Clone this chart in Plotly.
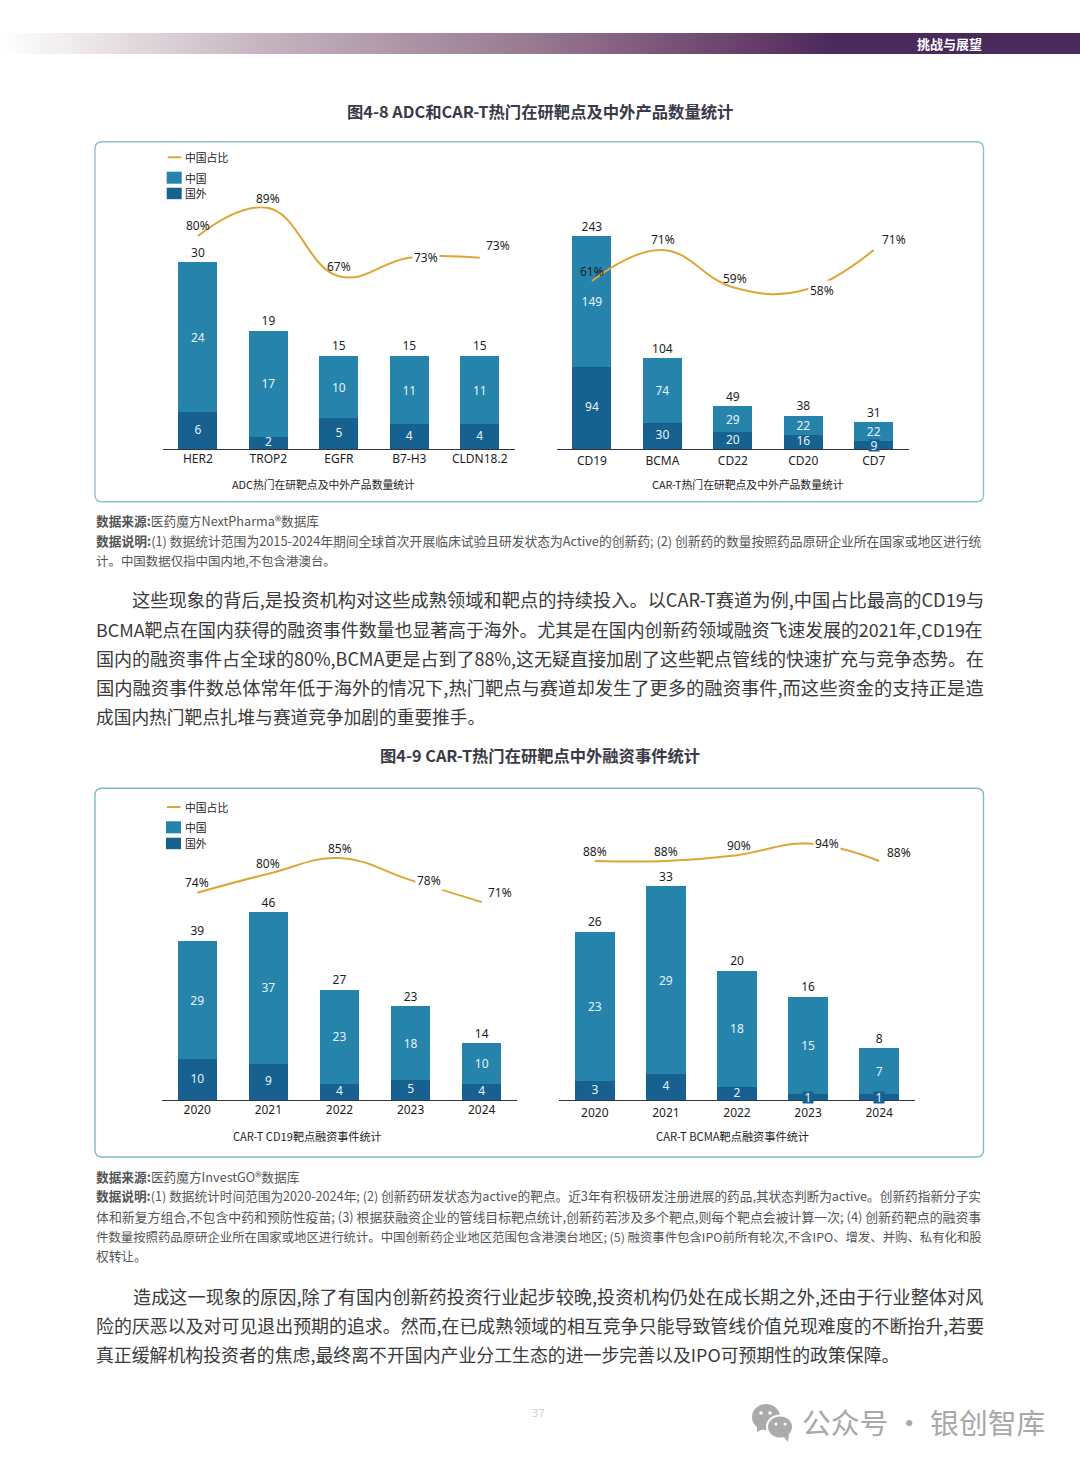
import plotly.graph_objects as go

# ---------- data ----------
adc_targets = ["HER2", "TROP2", "EGFR", "B7-H3", "CLDN18.2"]
adc_china = [24, 17, 10, 11, 11]
adc_foreign = [6, 2, 5, 4, 4]
adc_share = [80, 89, 67, 73, 73]

cart_targets = ["CD19", "BCMA", "CD22", "CD20", "CD7"]
cart_china = [149, 74, 29, 22, 22]
cart_foreign = [94, 30, 20, 16, 9]
cart_share = [61, 71, 59, 58, 71]

years = ["2020", "2021", "2022", "2023", "2024"]
cd19_china = [29, 37, 23, 18, 10]
cd19_foreign = [10, 9, 4, 5, 4]
cd19_share = [74, 80, 85, 78, 71]

bcma_china = [23, 29, 18, 15, 7]
bcma_foreign = [3, 4, 2, 1, 1]
bcma_share = [88, 88, 90, 94, 88]

captions = ["ADC热门在研靶点及中外产品数量统计", "CAR-T热门在研靶点及中外产品数量统计",
            "CAR-T CD19靶点融资事件统计", "CAR-T BCMA靶点融资事件统计"]
legend_line = "中国占比"
legend_china = "中国"
legend_foreign = "国外"

# ---------- text of the page ----------
header_text = "挑战与展望"
title_48 = "图4-8 ADC和CAR-T热门在研靶点及中外产品数量统计"
title_49 = "图4-9 CAR-T热门在研靶点中外融资事件统计"
note_48 = ["<b>数据来源:</b>医药魔方NextPharma®数据库",
           "<b>数据说明:</b>(1) 数据统计范围为2015-2024年期间全球首次开展临床试验且研发状态为Active的创新药; (2) 创新药的数量按照药品原研企业所在国家或地区进行统",
           "计。中国数据仅指中国内地,不包含港澳台。"]
para_1 = ["这些现象的背后,是投资机构对这些成熟领域和靶点的持续投入。以CAR-T赛道为例,中国占比最高的CD19与",
          "BCMA靶点在国内获得的融资事件数量也显著高于海外。尤其是在国内创新药领域融资飞速发展的2021年,CD19在",
          "国内的融资事件占全球的80%,BCMA更是占到了88%,这无疑直接加剧了这些靶点管线的快速扩充与竞争态势。在",
          "国内融资事件数总体常年低于海外的情况下,热门靶点与赛道却发生了更多的融资事件,而这些资金的支持正是造",
          "成国内热门靶点扎堆与赛道竞争加剧的重要推手。"]
note_49 = ["<b>数据来源:</b>医药魔方InvestGO®数据库",
           "<b>数据说明:</b>(1) 数据统计时间范围为2020-2024年; (2) 创新药研发状态为active的靶点。近3年有积极研发注册进展的药品,其状态判断为active。创新药指新分子实",
           "体和新复方组合,不包含中药和预防性疫苗; (3) 根据获融资企业的管线目标靶点统计,创新药若涉及多个靶点,则每个靶点会被计算一次; (4) 创新药靶点的融资事",
           "件数量按照药品原研企业所在国家或地区进行统计。中国创新药企业地区范围包含港澳台地区; (5) 融资事件包含IPO前所有轮次,不含IPO、增发、并购、私有化和股",
           "权转让。"]
para_2 = ["造成这一现象的原因,除了有国内创新药投资行业起步较晚,投资机构仍处在成长期之外,还由于行业整体对风",
          "险的厌恶以及对可见退出预期的追求。然而,在已成熟领域的相互竞争只能导致管线价值兑现难度的不断抬升,若要",
          "真正缓解机构投资者的焦虑,最终离不开国内产业分工生态的进一步完善以及IPO可预期性的政策保障。"]
page_number = "37"
watermark = "公众号 · 银创智库"

# ---------- styles / geometry ----------
W, H = 1080, 1466
CJK = "Noto Sans CJK SC"
LATIN = "Noto Sans, Noto Sans CJK SC"
C_CHINA, C_FOREIGN, C_LINE = "#2683AB", "#16618F", "#DDA635"
INK = "#1E1E1E"
LABEL_IN = "#E6F3F8"

def px(x): return x / W
def py(y): return 1 - y / H

panels = [
    dict(cats=adc_targets, china=adc_china, foreign=adc_foreign, share=adc_share, standoff=-2,
         x0=162.7, x1=515.0, base=449.3, top=150, unit=6.23, v0=80, p0=236, s=3.1,
         lab=[(0, 10, 0), (0, 10, 0), (0, 10, 0), (17, 0, 1), (18, 12, 0)], cap=(323, 485), capsize=10.8),
    dict(cats=cart_targets, china=cart_china, foreign=cart_foreign, share=cart_share, standoff=0,
         x0=556.7, x1=909.0, base=449.3, top=150, unit=0.8765, v0=71, p0=250, s=3.1,
         lab=[(0, 10, 0), (1, 10, 0), (2, 9, 0), (19, 0, 1), (20, 10, 0)], cap=(748, 485), capsize=10.8),
    dict(cats=years, china=cd19_china, foreign=cd19_foreign, share=cd19_share, standoff=-2,
         x0=161.7, x1=517.3, base=1100.3, top=795, unit=4.087, v0=74, p0=892.7, s=3.15,
         lab=[(0, 10, 0), (0, 10, 0), (0, 10, 0), (18, 0, 1), (18, 10, 0)], cap=(307, 1136.5), capsize=11.1),
    dict(cats=years, china=bcma_china, foreign=bcma_foreign, share=bcma_share, standoff=1,
         x0=559.3, x1=914.7, base=1100.3, top=795, unit=6.485, v0=88, p0=861, s=2.9,
         lab=[(0, 10, 0), (0, 10, 0), (2, 10, 0), (19, 0, 1), (20, 9, 0)], cap=(732.5, 1136.5), capsize=11.2),
]

fig = go.Figure()
layout_axes, annots, shapes = {}, [], []

def text(x, y, s, size, color=INK, family=LATIN, anchor="left", **kw):
    annots.append(dict(x=px(x - (1 if anchor == "left" else 0)), y=py(y - 1), xref="paper", yref="paper",
                       text=s, showarrow=False, xanchor=anchor, yanchor="middle", align=anchor,
                       font=dict(size=size, color=color, family=family),
                       borderpad=0, **kw))

def rect(x0, y0, x1, y1, color, layer="below"):
    shapes.append(dict(type="rect", xref="paper", yref="paper", x0=px(x0), x1=px(x1),
                       y0=py(y0), y1=py(y1), fillcolor=color, line=dict(width=0), layer=layer))

for i, p in enumerate(panels):
    n = i + 1
    xa, ya, ya2 = f"x{n}", f"y{n}", f"y{n + 4}"
    totals = [a + b for a, b in zip(p["china"], p["foreign"])]
    fig.add_trace(go.Bar(x=p["cats"], y=p["foreign"], name=legend_foreign,
                         marker=dict(color=C_FOREIGN, line=dict(width=0)),
                         showlegend=False, xaxis=xa, yaxis=ya, hoverinfo="skip"))
    fig.add_trace(go.Bar(x=p["cats"], y=p["china"], name=legend_china,
                         marker=dict(color=C_CHINA, line=dict(width=0)),
                         text=[str(v) for v in p["china"]], textposition="inside", textangle=0,
                         insidetextanchor="middle", constraintext="none", cliponaxis=False,
                         insidetextfont=dict(color=LABEL_IN, size=12, family=LATIN),
                         showlegend=False, xaxis=xa, yaxis=ya, hoverinfo="skip"))
    # foreign labels are drawn above both bars; very short bars get a small tab behind the label
    fx, fy, ft = [], [], []
    for j, (cat, v) in enumerate(zip(p["cats"], p["foreign"])):
        if v * p["unit"] < 10:
            annots.append(dict(x=j, y=v / 2, xref=xa, yref=ya, text=str(v), showarrow=False, width=10, height=11,
                               bgcolor=C_FOREIGN, borderpad=0, xanchor="center", yanchor="middle",
                               font=dict(size=12, color=LABEL_IN, family=LATIN)))
        else:
            fx.append(cat); fy.append(v / 2); ft.append(str(v))
    fig.add_trace(go.Scatter(x=fx, y=fy, mode="text", text=ft, textposition="middle center",
                             textfont=dict(size=12, color=LABEL_IN, family=LATIN), cliponaxis=False,
                             showlegend=False, xaxis=xa, yaxis=ya, hoverinfo="skip"))
    fig.add_trace(go.Scatter(x=p["cats"], y=totals, mode="markers+text", text=[str(v) for v in totals],
                             marker=dict(size=2.5, opacity=0),
                             textposition="top center", textfont=dict(size=12, color=INK, family=LATIN),
                             cliponaxis=False, showlegend=False, xaxis=xa, yaxis=ya, hoverinfo="skip"))
    fig.add_trace(go.Scatter(x=p["cats"], y=p["share"], mode="lines", name=legend_line,
                             line=dict(color=C_LINE, width=2, shape="spline", smoothing=1.2),
                             showlegend=False, xaxis=xa, yaxis=ya2, hoverinfo="skip"))
    dom_x = [px(p["x0"]), px(p["x1"])]
    dom_y = [py(p["base"]), py(p["top"])]
    layout_axes[f"xaxis{n}"] = dict(domain=dom_x, anchor=ya, type="category", range=[-0.5, 4.5],
                                    categoryorder="array", categoryarray=p["cats"],
                                    showline=True, linecolor="#333340", linewidth=1, showgrid=False,
                                    zeroline=False, ticks="", ticklabelstandoff=p["standoff"],
                                    tickfont=dict(size=12, color=INK, family=LATIN))
    layout_axes[f"yaxis{n}"] = dict(domain=dom_y, anchor=xa, range=[0, (p["base"] - p["top"]) / p["unit"]],
                                    visible=False, showgrid=False, zeroline=False)
    layout_axes[f"yaxis{n + 4}"] = dict(overlaying=ya, anchor=xa, visible=False, showgrid=False, zeroline=False,
                                        range=[p["v0"] - (p["base"] - p["p0"]) / p["s"],
                                               p["v0"] + (p["p0"] - p["top"]) / p["s"]])
    for j, (v, (dx, dy, bg)) in enumerate(zip(p["share"], p["lab"])):
        a = dict(x=j, y=v, xref=xa, yref=ya2, text=f"{v}%", showarrow=False, xshift=dx, yshift=dy,
                 font=dict(size=12, color=INK, family=LATIN), xanchor="center", yanchor="middle", borderpad=1)
        if bg:
            a["bgcolor"] = "#FFFFFF"
        annots.append(a)
    text(p["cap"][0], p["cap"][1], captions[i], p["capsize"], INK, CJK, "center")

# chart cards
def card(x0, y0, x1, y1, color, r=7):
    path = (f"M {px(x0 + r)} {py(y0)} L {px(x1 - r)} {py(y0)} Q {px(x1)} {py(y0)} {px(x1)} {py(y0 + r)} "
            f"L {px(x1)} {py(y1 - r)} Q {px(x1)} {py(y1)} {px(x1 - r)} {py(y1)} "
            f"L {px(x0 + r)} {py(y1)} Q {px(x0)} {py(y1)} {px(x0)} {py(y1 - r)} "
            f"L {px(x0)} {py(y0 + r)} Q {px(x0)} {py(y0)} {px(x0 + r)} {py(y0)} Z")
    shapes.append(dict(type="path", xref="paper", yref="paper", path=path, line=dict(color=color, width=1.4),
                       fillcolor="rgba(0,0,0,0)", layer="below"))

card(95, 141.7, 983.5, 501.7, "#8DBFD0")
card(95, 788.3, 983.5, 1157, "#7FB9C2")

# manual legends
for (lx, ly, ty1, ty2) in ((167.7, 157.3, 171.7, 187.7), (167, 807, 821.3, 837.7)):
    shapes.append(dict(type="line", xref="paper", yref="paper", x0=px(lx), x1=px(lx + 13.5), y0=py(ly), y1=py(ly),
                       line=dict(color=C_LINE, width=2)))
    rect(lx - 1, ty1, lx + 14, ty1 + 12, C_CHINA)
    rect(lx - 1, ty2, lx + 14, ty2 + 11.5, C_FOREIGN)
    text(lx + 17.5, ly + 1, legend_line, 10.8, "#222222", CJK)
    text(lx + 17.5, ty1 + 7, legend_china, 10.8, "#222222", CJK)
    text(lx + 17.5, ty2 + 6, legend_foreign, 10.8, "#222222", CJK)

# header band gradient
stops = [(0, (255, 255, 255)), (270, (196, 178, 190)), (540, (150, 120, 145)), (760, (98, 60, 102)),
         (830, (74, 42, 92)), (1080, (74, 42, 92))]
def band_color(x):
    for (a, ca), (b, cb) in zip(stops, stops[1:]):
        if a <= x <= b:
            t = (x - a) / (b - a)
            return "rgb(%d,%d,%d)" % tuple(round(u + (v - u) * t) for u, v in zip(ca, cb))
    return "rgb(74,42,92)"
for xs in range(0, W, 8):
    rect(xs, 33, xs + 8.5, 54, band_color(xs + 4))
text(949, 44, "<b>" + header_text + "</b>", 13, "#FFFFFF", CJK, "center")

# titles
text(540, 112, "<b>" + title_48 + "</b>", 16.33, "#3A3A48", CJK, "center")
text(540, 756, "<b>" + title_49 + "</b>", 16.3, "#3A3A48", CJK, "center")

# notes and paragraphs
for y, s, sz in zip((521, 541, 562), note_48, (12.68, 12.78, 12.45)):
    text(96, y, s, sz, "#555555", CJK)
for y, s, x, sz in zip((600, 630, 659, 688, 717), para_1, (132, 96, 96, 96, 96), (18.24, 17.88, 18.0, 18.29, 17.7)):
    text(x, y, s, sz, "#3A3A3A", CJK)
for y, s, sz in zip((1177, 1196, 1217, 1238, 1256), note_49, (12.7, 12.67, 12.89, 12.38, 12.7)):
    text(96, y, s, sz, "#555555", CJK)
for y, s, x, sz in zip((1297, 1326, 1355), para_2, (133, 96, 96), (18.17, 17.93, 17.89)):
    text(x, y, s, sz, "#3A3A3A", CJK)

text(538, 1413, page_number, 11, "#CFCFCF", LATIN, "center")
text(802, 1422, watermark, 28.8, "#A8A8A8", CJK)

# watermark icon
def ellipse(cx, cy, rx, ry, color, lw=0, lc="#FFFFFF"):
    shapes.append(dict(type="circle", xref="paper", yref="paper", x0=px(cx - rx), x1=px(cx + rx),
                       y0=py(cy - ry), y1=py(cy + ry), fillcolor=color, line=dict(width=lw, color=lc)))
def tri(pts, color):
    path = "M " + " L ".join(f"{px(a)} {py(b)}" for a, b in pts) + " Z"
    shapes.append(dict(type="path", xref="paper", yref="paper", path=path, fillcolor=color, line=dict(width=0)))

G = "#ABABAB"
ellipse(766, 1417, 14, 13, G)
tri([(757, 1426), (765, 1428), (757, 1432)], G)
ellipse(780, 1427, 13, 11.5, G, 2)
tri([(783, 1436), (789, 1434), (788, 1442)], G)
for cx, cy, r in ((761, 1413, 1.8), (770, 1413, 1.8), (776, 1424, 1.5), (785, 1424, 1.5)):
    ellipse(cx, cy, r, r, "#FFFFFF")

fig.update_layout(width=W, height=H, autosize=False, margin=dict(l=0, r=0, t=0, b=0, pad=0),
                  paper_bgcolor="#FFFFFF", plot_bgcolor="rgba(0,0,0,0)",
                  barmode="stack", bargap=0.445, showlegend=False,
                  annotations=annots, shapes=shapes, **layout_axes)

fig.write_html("out.html", config=dict(displayModeBar=False, responsive=False),
               post_script="document.body.style.margin='0';document.body.style.overflow='hidden';")
